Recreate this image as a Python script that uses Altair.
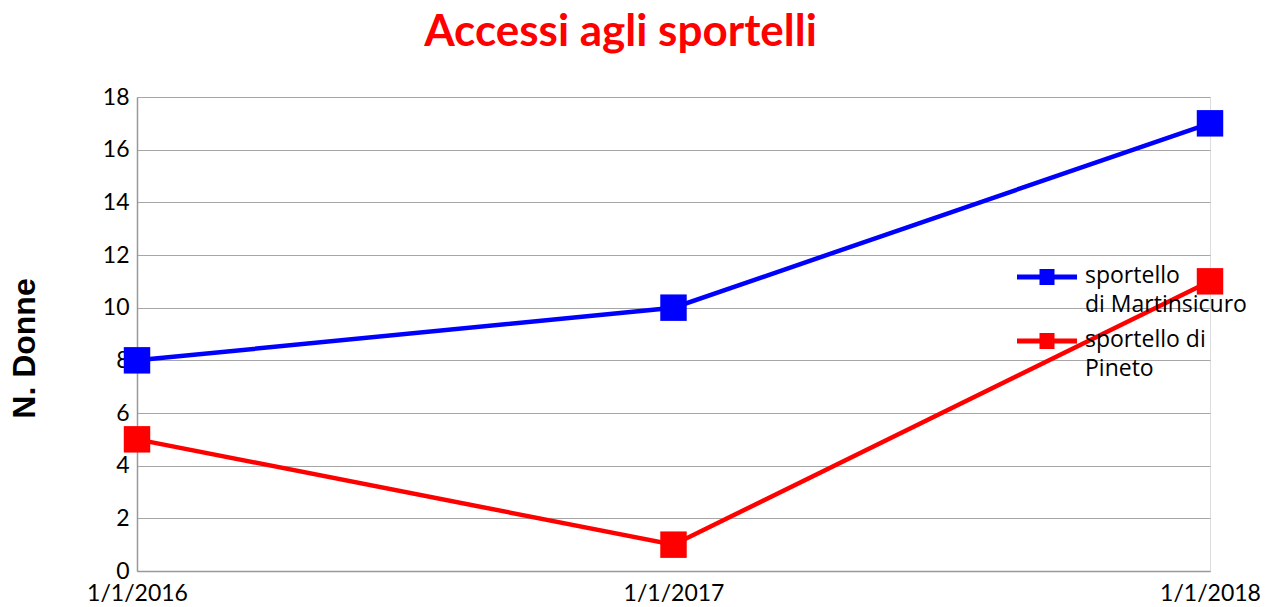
import altair as alt
import pandas as pd

dates = ["1/1/2016", "1/1/2017", "1/1/2018"]
series_names = ["sportello di Martinsicuro", "sportello di Pineto"]
martinsicuro = [8, 10, 17]
pineto = [5, 1, 11]
y_ticks = [0, 2, 4, 6, 8, 10, 12, 14, 16, 18]
colors = ["#0000FF", "#FF0000"]

rows = []
for name, vals in zip(series_names, [martinsicuro, pineto]):
    for d, v in zip(dates, vals):
        rows.append({"data": d, "serie": name, "valore": v})
df = pd.DataFrame(rows)

FONT = "Lato"

x_enc = alt.X(
    "data:O",
    sort=dates,
    scale=alt.Scale(type="point", padding=0),
    axis=alt.Axis(
        title=None, labelAngle=0, ticks=False, labelPadding=11,
        labelFontSize=23, labelColor="#000000", labelFont=FONT,
        domainColor="#999999", domainWidth=1.5, grid=False,
    ),
)
y_enc = alt.Y(
    "valore:Q",
    scale=alt.Scale(domain=[0, 18], nice=False),
    axis=alt.Axis(
        title="N. Donne", values=y_ticks, ticks=False, labelPadding=8,
        labelFontSize=23, labelColor="#000000", labelFont=FONT,
        gridColor="#A6A6A6", gridWidth=1.2,
        domainColor="#999999", domainWidth=1.5,
        titleFont="Liberation Sans", titleFontSize=32, titleFontWeight="bold",
        titleColor="#000000", titleAngle=270, titleAlign="center",
        titleBaseline="middle", titleX=-113, titleY=251,
    ),
)

color_scale = alt.Scale(domain=series_names, range=colors)

# legend glyph: line with a square, drawn 6px above the entry centre
legend_symbol = "M-1,-0.28H1V-0.12H-1Z M-0.25,-0.47H0.25V0.07H-0.25Z"

lines = alt.Chart(df).mark_line(strokeWidth=4.5).encode(
    x=x_enc, y=y_enc,
    color=alt.Color("serie:N", scale=color_scale, legend=None),
)

points = alt.Chart(df).mark_point(
    shape="square", filled=True, size=700, opacity=1
).encode(
    x=x_enc, y=y_enc,
    color=alt.Color(
        "serie:N", scale=color_scale,
        legend=alt.Legend(
            title=None, orient="none", legendX=880, legendY=156, padding=0,
            symbolType=legend_symbol, symbolSize=3600,
            symbolStrokeWidth=0, symbolOpacity=1,
            labelFont="Open Sans", labelFontSize=23, labelColor="#000000",
            labelBaseline="alphabetic", labelOffset=8, rowPadding=0,
            labelLimit=0,
            labelExpr="datum.label == 'sportello di Martinsicuro' ? ['sportello', 'di Martinsicuro'] : ['sportello di', 'Pineto']",
        ),
    ),
)

chart = alt.layer(lines, points).resolve_legend(color="independent").properties(
    width=1073,
    height=474,
    title=alt.TitleParams(
        "Accessi agli sportelli", font=FONT, fontSize=44, fontWeight="bold",
        color="#FF0000", anchor="middle", frame="group", dx=-53, offset=31,
    ),
    autosize=alt.AutoSizeParams(type="none"),
    padding={"left": 129, "top": 89, "right": 55, "bottom": 34},
).configure_view(stroke="transparent", strokeWidth=0).configure(
    style={"guide-label": {"lineHeight": 29}}
)

chart.save("out.html", embed_options={"renderer": "svg", "actions": False})
